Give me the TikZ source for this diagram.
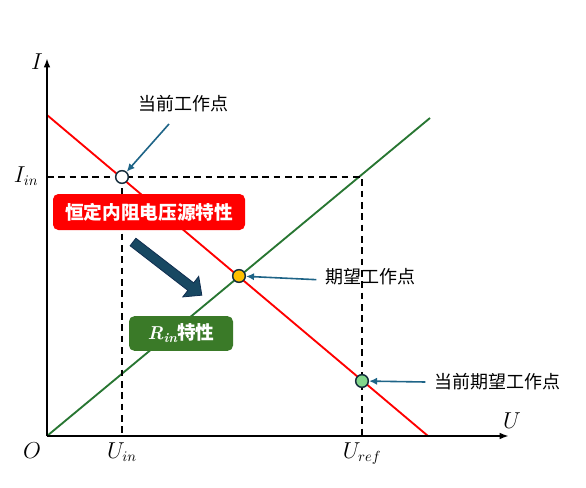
\documentclass[tikz,border=0pt]{standalone}
\usepackage{fontspec}
\newfontfamily\cjk{Noto Sans CJK SC}
\usepackage{amsmath}
\usetikzlibrary{arrows.meta}
\definecolor{redline}{RGB}{255,0,0}
\definecolor{greenline}{RGB}{40,118,50}
\definecolor{greenbox}{RGB}{58,122,40}
\definecolor{pointblue}{RGB}{30,100,135}
\definecolor{bigfill}{RGB}{24,72,98}
\definecolor{bigborder}{RGB}{16,46,80}
\definecolor{dotline}{RGB}{20,45,60}
\definecolor{dotyellow}{RGB}{255,192,0}
\definecolor{dotgreen}{RGB}{130,215,140}

\begin{document}
\begin{tikzpicture}[x=0.75pt, y=0.75pt,
	axis/.style={line width=1.5pt, -{Latex[length=7pt,width=5pt]}},
	guide/.style={line width=1.4pt, dash pattern=on 5pt off 3.5pt},
	callout/.style={pointblue, line width=1.2pt, -{Latex[length=6pt,width=5.5pt]}},
	opdot/.style={circle, draw=dotline, line width=1.1pt, minimum size=9.5pt, inner sep=0pt},
	lbl/.style={font=\cjk\fontsize{13.5}{16}\selectfont},
	tag/.style={rounded corners=4pt, text=white, inner sep=0pt, font=\cjk\bfseries\fontsize{14}{17}\selectfont},
	mathlbl/.style={font=\fontsize{16}{19}\selectfont}]
	\useasboundingbox (0,0) rectangle (586,487);
	% axes and characteristics
	\coordinate (O) at (47,51);
	\coordinate (ytop) at (47,429);
	\coordinate (xend) at (509,51);
	\coordinate (r1) at (47,372);
	\coordinate (r2) at (428,51);
	\coordinate (g2) at (430,369);
	\coordinate (Iin) at (47,310);
	\coordinate (corner) at (362,310);
	\coordinate (Uin) at (122,51);
	\coordinate (Uref) at (362,51);
	\coordinate (pcur) at (122,310);
	\draw[redline, line width=1.4pt] (r1) -- (r2);
	\draw[greenline, line width=1.4pt] (O) -- (g2);
	\draw[guide] (Iin) -- (corner) -- (Uref);
	\draw[guide] (pcur) -- (Uin);
	\draw[axis] (O) -- (ytop);
	\draw[axis] (O) -- (xend);
	\node[opdot, fill=white] (cur) at (pcur) {};
	\node[opdot, fill=dotyellow] (want) at (239,211) {};
	\node[opdot, fill=dotgreen] (curwant) at (362,106) {};
	\node[mathlbl] (ylbl) at (37,425) {$I$};
	\node[mathlbl, anchor=east] (iinlbl) at (43,311) {$I_{in}$};
	\node[mathlbl] (olbl) at (32,36) {$O$};
	\node[mathlbl] (xlbl) at (512,66) {$U$};
	\node[mathlbl, anchor=north] (uinlbl) at (122,49) {$U_{in}$};
	\node[mathlbl, anchor=north] (ureflbl) at (362,49) {$U_{ref}$};
	% boxes
	\node[tag, fill=redline, minimum width=144pt, minimum height=27pt] (srcbox) at (149,275) {恒定内阻电压源特性};
	\node[tag, fill=greenbox, minimum width=78pt, minimum height=26pt] (rinbox) at (181,153.5) {{\rmfamily\bfseries\itshape R\raisebox{-0.35ex}{\fontsize{10}{12}\selectfont in}}特性};
	% big arrow
	\begin{scope}[shift={(133,245)}, rotate=-37.7]
		\draw[fill=bigfill, draw=bigborder, line width=0.6pt] (0,-4.75) -- (73,-4.75) -- (73,-13) -- (87,0) -- (73,13) -- (73,4.75) -- (0,4.75) -- cycle;
	\end{scope}
	% callouts
	\node[lbl] (curtxt) at (183,383) {当前工作点};
	\coordinate (curtail) at (169,363);
	\draw[callout] (curtail) -- (cur);
	\node[lbl] (wanttxt) at (370,210) {期望工作点};
	\draw[callout] ([xshift=-3pt,yshift=-2pt]wanttxt.west) -- (want);
	\node[lbl] (cwtxt) at (497,105) {当前期望工作点};
	\draw[callout] ([xshift=-3pt]cwtxt.west) -- (curwant);
\end{tikzpicture}
\end{document}
